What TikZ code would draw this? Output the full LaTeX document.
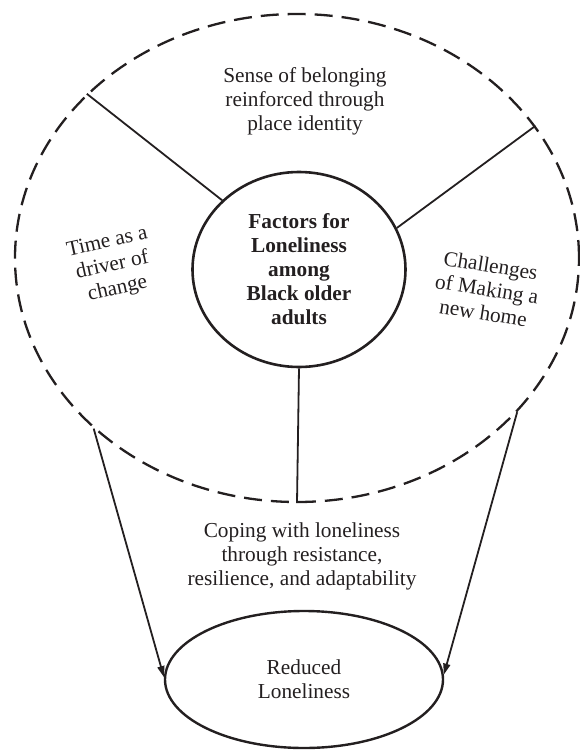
\documentclass[tikz,border=0pt]{standalone}
\usepackage{fontspec}
\setmainfont{Liberation Serif}
\usetikzlibrary{shapes.geometric,arrows.meta}
\definecolor{ink}{RGB}{35,31,32}
\tikzset{
  txt/.style={align=center,font=\fontsize{21.3}{24}\selectfont,text=ink,inner sep=0pt},
  outerell/.style={ellipse,draw=ink,line width=2.3pt,dash pattern=on 18pt off 9pt,minimum width=564pt,minimum height=488pt,inner sep=0pt},
  innerell/.style={ellipse,draw=ink,line width=2.6pt,minimum width=213pt,minimum height=195pt,inner sep=0pt,align=center,font=\fontsize{21.3}{24}\selectfont\bfseries,text=ink},
  resell/.style={ellipse,draw=ink,line width=2.4pt,minimum width=278pt,minimum height=137pt,inner sep=0pt,align=center,font=\fontsize{21.3}{24}\selectfont,text=ink},
  conn/.style={draw=ink,line width=1.8pt},
  arr/.style={draw=ink,line width=1.8pt,-{Triangle[length=11pt,width=7pt]}}
}
\begin{document}
\begin{tikzpicture}[x=1pt,y=-1pt]
\useasboundingbox (0,0) rectangle (580,750);
\node[outerell] (outer) at (297,258) {};
\node[innerell] (inner) at (299,269.5) {Factors for\\Loneliness\\among\\Black older\\adults};
\node[resell] (res) at (304,679.5) {Reduced\\Loneliness};
\node[txt] (belong) at (305,101) {Sense of belonging\\reinforced through\\place identity};
\node[txt,rotate=12.5] (time) at (112.5,266) {Time as a\\driver of\\change};
\node[txt,rotate=-9] (chall) at (487,289) {Challenges\\of Making a\\new home};
\node[txt] (coping) at (302,556) {Coping with loneliness\\through resistance,\\resilience, and adaptability};
\draw[conn] (inner.138.5) -- (outer.142.7);
\draw[conn] (inner.23.3) -- (outer.29);
\draw[conn] (inner.south) -- (outer.south);
\draw[arr] (outer.220.1) -- (res.179);
\draw[arr] (outer.325.5) -- (res.2.6);
\end{tikzpicture}
\end{document}
